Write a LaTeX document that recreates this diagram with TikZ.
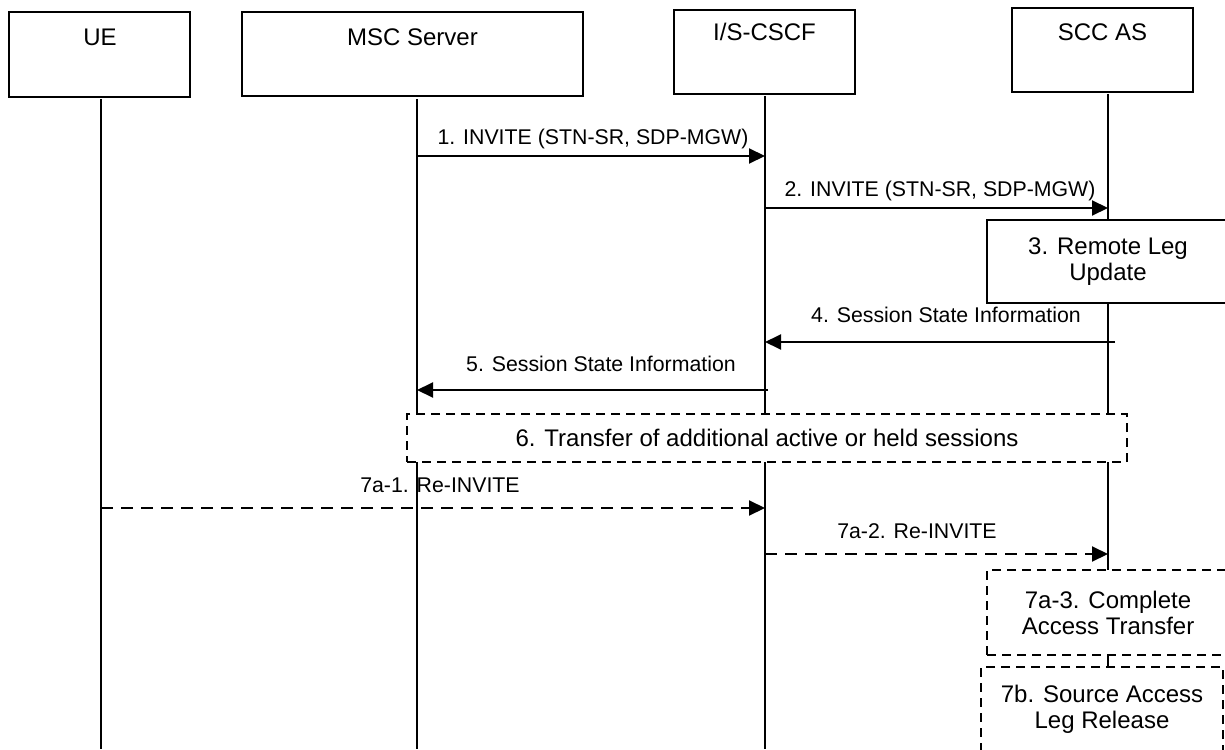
\documentclass[tikz,border=0pt]{standalone}
\usepackage{fontspec}
\setmainfont{Liberation Sans}
\usetikzlibrary{arrows.meta}
\begin{document}
\begin{tikzpicture}[x=0.5pt,y=-0.5pt,
  titlebox/.style={draw, line width=0.7pt, inner sep=0pt, fill=white},
  titletext/.style={font=\fontsize{12}{13}\selectfont, inner sep=0pt, anchor=base},
  lifeline/.style={line width=0.7pt},
  msgline/.style={line width=1pt, -{Triangle[length=8pt,width=7.5pt]}},
  msgdash/.style={msgline, dash pattern=on 6pt off 4pt},
  msglabel/.style={font=\fontsize{10.65}{12}\selectfont, inner sep=0pt, anchor=base},
  stepbox/.style={draw, line width=0.7pt, fill=white, inner sep=0pt, align=center,
    font=\fontsize{12}{13}\selectfont},
  dashbox/.style={stepbox, dash pattern=on 4.5pt off 3pt}]
\useasboundingbox (0,0) rectangle (1225,749);
% title boxes
\node[titlebox, minimum width=90.5pt, minimum height=42.5pt] (ue) at (99.5,54.5) {};
\node[titlebox, minimum width=170.5pt, minimum height=42pt] (msc) at (412.5,54) {};
\node[titlebox, minimum width=90.5pt, minimum height=42pt] (cscf) at (764.5,52) {};
\node[titlebox, minimum width=90.5pt, minimum height=42pt] (scc) at (1102.5,50) {};
\node[titletext] (uet) at (100,45.5) {UE};
\node[titletext] (msct) at (412.5,45.5) {MSC Server};
\node[titletext] (cscft) at (764.5,41) {I/S-CSCF};
\node[titletext] (scct) at (1102.5,41) {SCC AS};
% lifelines
\coordinate (ueT) at (101,99);   \coordinate (ueB) at (101,749);
\coordinate (mscT) at (417,99);  \coordinate (mscB) at (417,749);
\coordinate (cscfT) at (765,96); \coordinate (cscfB) at (765,749);
\coordinate (sccT) at (1108,94); \coordinate (sccB) at (1108,749);
\draw[lifeline] (ueT) -- (ueB);
\draw[lifeline] (mscT) -- (mscB);
\draw[lifeline] (cscfT) -- (cscfB);
\draw[lifeline] (sccT) -- (sccB);
% 1
\coordinate (m1a) at (417,156); \coordinate (m1b) at (765,156);
\draw[msgline] (m1a) -- (m1b);
\node[msglabel] (l1) at (593,144) {1. INVITE (STN-SR, SDP-MGW)};
% 2
\coordinate (m2a) at (765,208); \coordinate (m2b) at (1108,208);
\draw[msgline] (m2a) -- (m2b);
\node[msglabel] (l2) at (940,196) {2. INVITE (STN-SR, SDP-MGW)};
% 3
\node[stepbox, minimum width=121pt, minimum height=41.5pt] (s3) at (1108,261.5) {3. Remote Leg\\Update};
% 4
\coordinate (m4a) at (1115,342); \coordinate (m4b) at (765,342);
\draw[msgline] (m4a) -- (m4b);
\node[msglabel] (l4) at (946,322.5) {4. Session State Information};
% 5
\coordinate (m5a) at (768,390); \coordinate (m5b) at (417,390);
\draw[msgline] (m5a) -- (m5b);
\node[msglabel] (l5) at (601,371.5) {5. Session State Information};
% 6
\node[dashbox, minimum width=360pt, minimum height=24pt] (s6) at (767,438) {6. Transfer of additional active or held sessions};
% 7a-1
\coordinate (m7a) at (101,508); \coordinate (m7b) at (765,508);
\draw[msgdash] (m7a) -- (m7b);
\node[msglabel] (l7a) at (440,492.5) {7a-1. Re-INVITE};
% 7a-2
\coordinate (m8a) at (765,554); \coordinate (m8b) at (1108,554);
\draw[msgdash] (m8a) -- (m8b);
\node[msglabel] (l8) at (917,538.5) {7a-2. Re-INVITE};
% 7a-3
\node[dashbox, minimum width=121pt, minimum height=42.5pt] (s7a) at (1108,612.5) {7a-3. Complete\\Access Transfer};
% 7b
\node[dashbox, minimum width=121pt, minimum height=42.5pt] (s7b) at (1102,709.5) {7b. Source Access\\Leg Release};
\end{tikzpicture}
\end{document}
